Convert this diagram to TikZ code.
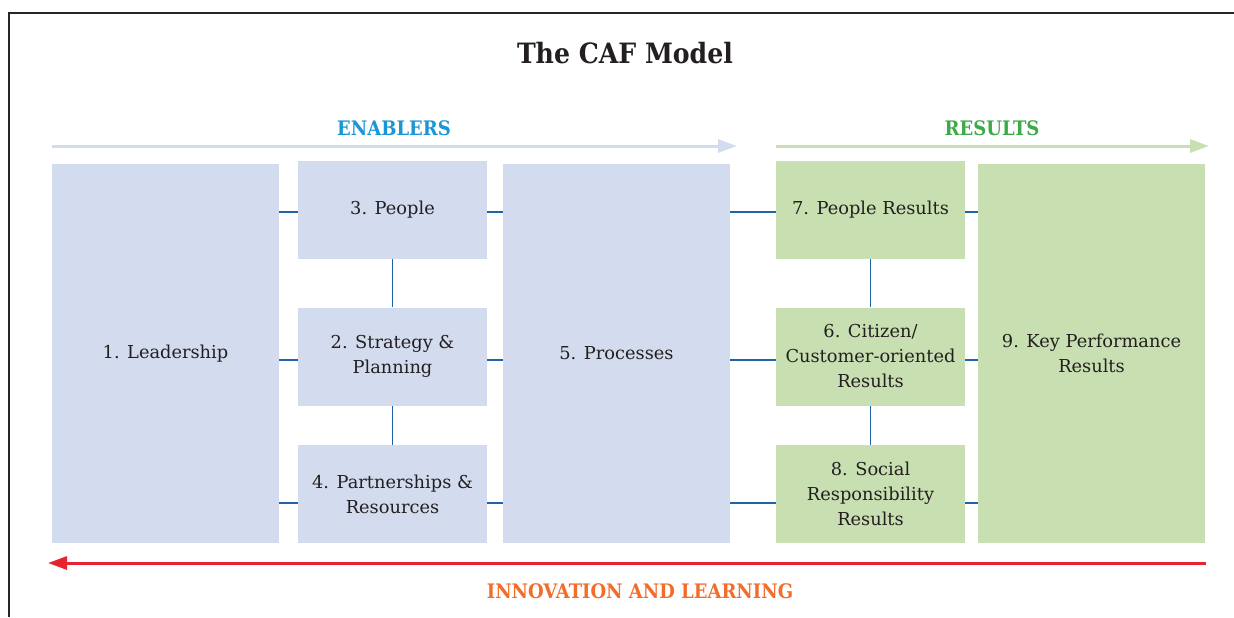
\documentclass[tikz,border=0pt]{standalone}
\usepackage{fontspec}
\setmainfont{DejaVu Serif}
\newfontfamily\headfont{DejaVu Serif Condensed}
\usetikzlibrary{arrows.meta}

\definecolor{boxblue}{HTML}{D3DCEE}
\definecolor{boxgreen}{HTML}{C8E0B1}
\definecolor{linkblue}{HTML}{1F63A8}
\definecolor{enabcol}{HTML}{1A96D4}
\definecolor{rescol}{HTML}{3DAA49}
\definecolor{innored}{HTML}{E82330}
\definecolor{innoorange}{HTML}{F26C2A}
\definecolor{txtgray}{HTML}{231F20}
\definecolor{framegray}{HTML}{262626}

\begin{document}
\begin{tikzpicture}[x=0.5pt, y=-0.5pt,
  font=\fontsize{8.9}{12.5}\selectfont, text=txtgray,
  enabler/.style={rectangle, fill=boxblue, align=center, inner sep=0pt},
  result/.style={rectangle, fill=boxgreen, align=center, inner sep=0pt},
  tall/.style={minimum width=113.5pt, minimum height=189.5pt},
  small/.style={minimum width=94.5pt, minimum height=49pt},
  link/.style={draw=linkblue, line width=0.7pt},
  flow/.style={line width=1.5pt, -{Triangle[length=9.5pt, width=6.5pt]}},
  heading/.style={font=\headfont\fontsize{10}{12}\selectfont\bfseries}]
  \useasboundingbox (0,0) rectangle (1234,617);
  % Frame
  \draw[framegray, line width=1pt] (8.5,617) -- (8.5,12.5) -- (1234,12.5);
  % Title
  \node (title) [font=\headfont\fontsize{14}{16}\selectfont\bfseries] at (625,53) {The CAF Model};
  % Nodes
  \node (lead) [enabler, tall] at (165.5,353.5) {1. Leadership};
  \node (ppl) [enabler, small] at (392.5,210) {3. People};
  \node (strat) [enabler, small] at (392.5,356.5) {2. Strategy \&\\Planning};
  \node (part) [enabler, small] at (392.5,494) {4. Partnerships \&\\Resources};
  \node (proc) [enabler, tall] at (616.5,353.5) {5. Processes};
  \node (pplres) [result, small] at (870.5,210) {7. People Results};
  \node (cit) [result, small] at (870.5,356.5) {6. Citizen/\\Customer-oriented\\Results};
  \node (soc) [result, small] at (870.5,494) {8. Social\\Responsibility\\Results};
  \node (kpr) [result, tall] at (1091.5,353.5) {9. Key Performance\\Results};
  % Links
  \foreach \b/\g/\s in {ppl/pplres/1pt, strat/cit/1.75pt, part/soc/4.5pt} {
    \draw[link] ([yshift=-\s]\b.west) -- ([yshift=-\s]\b.west -| lead.east);
    \draw[link] ([yshift=-\s]\b.east) -- ([yshift=-\s]\b.east -| proc.west);
    \draw[link] ([yshift=-\s]\g.west) -- ([yshift=-\s]\g.west -| proc.east);
    \draw[link] ([yshift=-\s]\g.east) -- ([yshift=-\s]\g.east -| kpr.west);
  }
  \draw[link] (ppl) -- (strat);
  \draw[link] (strat) -- (part);
  \draw[link] (pplres) -- (cit);
  \draw[link] (cit) -- (soc);
  % Arrows
  \coordinate (en-a) at (52,146);
  \coordinate (en-b) at (737,146);
  \coordinate (re-a) at (776,146);
  \coordinate (re-b) at (1209,146);
  \coordinate (in-a) at (1206,563);
  \coordinate (in-b) at (48,563);
  \draw[flow, draw=boxblue] (en-a) -- (en-b);
  \draw[flow, draw=boxgreen] (re-a) -- (re-b);
  \draw[flow, draw=innored] (in-a) -- (in-b);
  % Headers
  \node (enab) [heading, text=enabcol] at (394,128) {ENABLERS};
  \node (res) [heading, text=rescol] at (992,128) {RESULTS};
  \node (inno) [heading, text=innoorange] at (640,591) {INNOVATION AND LEARNING};
\end{tikzpicture}
\end{document}
